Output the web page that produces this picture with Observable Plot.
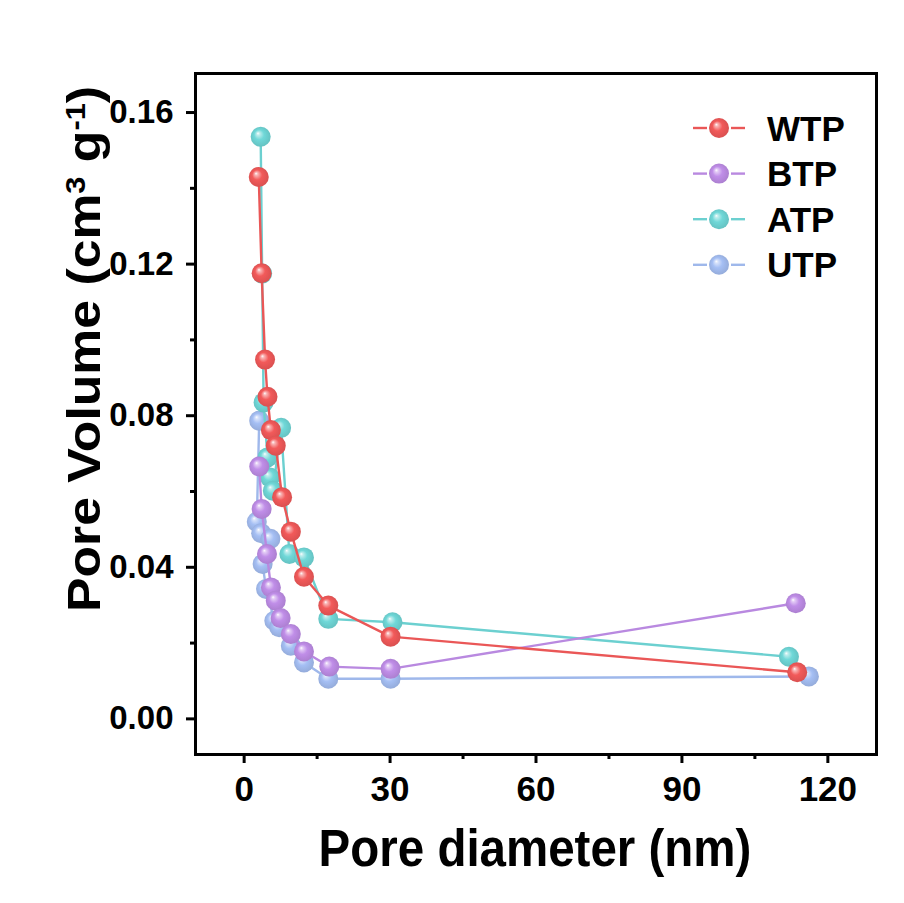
<!DOCTYPE html>
<html><head><meta charset="utf-8">
<script src="https://cdn.jsdelivr.net/npm/d3@7"></script>
<script src="https://cdn.jsdelivr.net/npm/@observablehq/plot@0.6"></script>
<style>
body{margin:0;background:#fff;}
#chart svg{display:block;}
</style>
</head><body><div id="chart"></div>
<script>
// ---- data ----
const seriesNames = ["WTP", "BTP", "ATP", "UTP"];
const seriesColors = ["#F25A5A", "#C08EE8", "#70D8D8", "#A5BFF4"];

const wtpX = [3.0, 3.6, 4.3, 4.8, 5.5, 6.5, 7.8, 9.6, 12.3, 17.3, 30.1, 113.7];
const wtpY = [0.1430, 0.1176, 0.0948, 0.0850, 0.0762, 0.0721, 0.0585, 0.0494, 0.0375, 0.0299, 0.0217, 0.0123];

const btpX = [3.1, 3.6, 4.7, 5.5, 6.5, 7.5, 9.6, 12.3, 17.5, 30.1, 113.4];
const btpY = [0.0666, 0.0554, 0.0435, 0.0347, 0.0312, 0.0266, 0.0224, 0.0178, 0.0138, 0.0132, 0.0305];

const atpX = [3.4, 3.7, 4.0, 4.8, 5.3, 5.9, 7.6, 9.3, 12.3, 17.3, 30.5, 112.0];
const atpY = [0.1536, 0.1175, 0.0835, 0.0690, 0.0637, 0.0602, 0.0768, 0.0435, 0.0426, 0.0264, 0.0255, 0.0164];

const utpX = [3.1, 2.6, 3.5, 5.4, 3.8, 4.5, 6.2, 7.2, 9.6, 12.3, 17.3, 30.1, 116.1];
const utpY = [0.0787, 0.0520, 0.0490, 0.0475, 0.0409, 0.0343, 0.0259, 0.0242, 0.0193, 0.0149, 0.0106, 0.0106, 0.0112];

const xMajorTicks = [0, 30, 60, 90, 120];
const xMinorTicks = [15, 45, 75, 105];
const yMajorTicks = [0, 0.04, 0.08, 0.12, 0.16];
const yMinorTicks = [0.02, 0.06, 0.10, 0.14];

const xTitle = "Pore diameter (nm)";

// ---- build rows ----
const seriesXY = {WTP: [wtpX, wtpY], BTP: [btpX, btpY], ATP: [atpX, atpY], UTP: [utpX, utpY]};
const rows = {};
for (const name of seriesNames) {
  const [xs, ys] = seriesXY[name];
  rows[name] = xs.map((x, i) => ({series: name, x, y: ys[i]}));
}
const colorOf = Object.fromEntries(seriesNames.map((n, i) => [n, seriesColors[i]]));
const lineColorOf = name => d3.color(colorOf[name]).darker(0.1).formatHex();
const drawOrder = ["UTP", "ATP", "BTP", "WTP"];

const FONT = "'Liberation Sans', Arial, Helvetica, sans-serif";

const marks = [];
for (const name of drawOrder) {
  marks.push(Plot.line(rows[name], {x: "x", y: "y", stroke: lineColorOf(name), strokeWidth: 2.4}));
  marks.push(Plot.dot(rows[name], {x: "x", y: "y", r: 10, fill: `url(#ball-${name})`, stroke: "none"}));
}
marks.push(Plot.frame({stroke: "#000", strokeWidth: 3}));
marks.push(Plot.axisX({ticks: xMajorTicks, tickSize: 9, tickPadding: 13, strokeWidth: 3, fontSize: 35, fontWeight: "bold", label: null, tickFormat: d3.format("d")}));
marks.push(Plot.axisX({ticks: xMinorTicks, tickSize: 5, strokeWidth: 3, tickFormat: () => "", label: null}));
marks.push(Plot.axisY({ticks: yMajorTicks, tickSize: 9, tickPadding: 13, strokeWidth: 3, fontSize: 33, fontWeight: "bold", label: null, tickFormat: d3.format(".2f")}));
marks.push(Plot.axisY({ticks: yMinorTicks, tickSize: 5, strokeWidth: 3, tickFormat: () => "", label: null}));

const svg = Plot.plot({
  width: 904, height: 903,
  marginLeft: 195, marginRight: 28, marginTop: 73, marginBottom: 149,
  style: {fontFamily: FONT, background: "#fff", color: "#000"},
  x: {domain: [-10, 130]},
  y: {domain: [-0.0094, 0.1703]},
  marks
});

// gradients for the shaded balls
const s = d3.select(svg);
const defs = s.insert("defs", ":first-child");
for (const name of seriesNames) {
  const base = d3.color(colorOf[name]);
  const g = defs.append("radialGradient").attr("id", `ball-${name}`)
    .attr("cx", "50%").attr("cy", "50%").attr("r", "55%").attr("fx", "36%").attr("fy", "32%");
  const light = d3.interpolateRgb(base, "#fff");
  g.append("stop").attr("offset", "0%").attr("stop-color", "#fff");
  g.append("stop").attr("offset", "14%").attr("stop-color", light(0.55));
  g.append("stop").attr("offset", "45%").attr("stop-color", base.formatHex());
  g.append("stop").attr("offset", "100%").attr("stop-color", base.darker(0.35).formatHex());
}
s.selectAll("line").attr("stroke-linecap", "square");

// axis titles
s.append("text").attr("transform", "translate(535,866) scale(1,1.08)").attr("text-anchor", "middle")
  .attr("font-family", FONT).attr("font-weight", "bold").attr("font-size", 47.5).attr("fill", "#000")
  .text(xTitle);

const yt = s.append("text").attr("transform", "translate(100,349) rotate(-90) scale(1.1,1)").attr("text-anchor", "middle")
  .attr("font-family", FONT).attr("font-weight", "bold").attr("font-size", 47).attr("fill", "#000");
yt.append("tspan").text("Pore Volume (cm");
yt.append("tspan").attr("baseline-shift", "super").attr("font-size", 28).text("3");
yt.append("tspan").text(" g");
yt.append("tspan").attr("baseline-shift", "super").attr("font-size", 28).text("-1");
yt.append("tspan").text(")");

// legend
const leg = s.append("g");
seriesNames.forEach((name, i) => {
  const cy = 128 + i * 45.6;
  const col = lineColorOf(name);
  leg.append("line").attr("x1", 693).attr("x2", 707).attr("y1", cy).attr("y2", cy).attr("stroke", col).attr("stroke-width", 2.4);
  leg.append("line").attr("x1", 731).attr("x2", 745).attr("y1", cy).attr("y2", cy).attr("stroke", col).attr("stroke-width", 2.4);
  leg.append("circle").attr("cx", 719).attr("cy", cy).attr("r", 10).attr("fill", `url(#ball-${name})`);
  leg.append("text").attr("x", 767).attr("y", cy).attr("dy", "0.36em").attr("text-anchor", "start")
    .attr("font-family", FONT).attr("font-weight", "bold").attr("font-size", 35).attr("fill", "#000").text(name);
});

document.getElementById("chart").append(svg);
</script>
</body></html>
